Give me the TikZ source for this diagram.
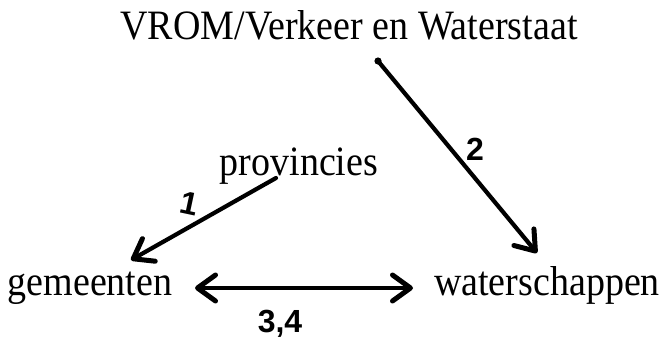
\documentclass[tikz,border=0pt]{standalone}
\usepackage{fontspec}
\setmainfont{Liberation Serif}
\newfontfamily\handfont{Liberation Sans}
\usetikzlibrary{arrows.meta}
\newcommand{\tallt}[1]{\scalebox{1}[1.1]{#1}}
\tikzset{
  lbl/.style={font=\fontsize{38}{42}\selectfont, inner sep=0pt, anchor=base},
  hand/.style={font=\handfont\bfseries\fontsize{32}{34}\selectfont, inner sep=0pt},
  tipb/.tip={Straight Barb[length=18pt,width=26pt,line width=5pt,round]},
  pen/.style={line width=4.2pt, line cap=round, -tipb},
  dpen/.style={line width=4.2pt, line cap=round, tipb-tipb}
}
\begin{document}
\begin{tikzpicture}[x=1pt,y=1pt]
\useasboundingbox (0,0) rectangle (664,338);
\node[lbl] (vrom) at (349,298) {\tallt{VROM/Verkeer en Waterstaat}};
\node[lbl] (prov) at (299,163) {\tallt{provincies}};
\node[lbl] (gem) at (90,43) {\tallt{gemeenten}};
\node[lbl] (wat) at (547,43) {\tallt{waterschappen}};
\coordinate (a2s) at (378,277);
\coordinate (a2e) at (537,85);
\coordinate (a1s) at (276,160);
\coordinate (a1e) at (131,78);
\coordinate (a3l) at (195,50);
\coordinate (a3r) at (413,50);
\fill (a2s) circle (3.6pt);
\draw[pen] (a2s) -- (a2e);
\draw[pen] (a1s) -- (a1e);
\draw[dpen] (a3l) -- (a3r);
\node[hand] (l2) at (475,189) {2};
\node[hand, rotate=-12] (l1) at (189,134) {1};
\node[hand] (l34) at (280,14) {3,4};
\end{tikzpicture}
\end{document}
